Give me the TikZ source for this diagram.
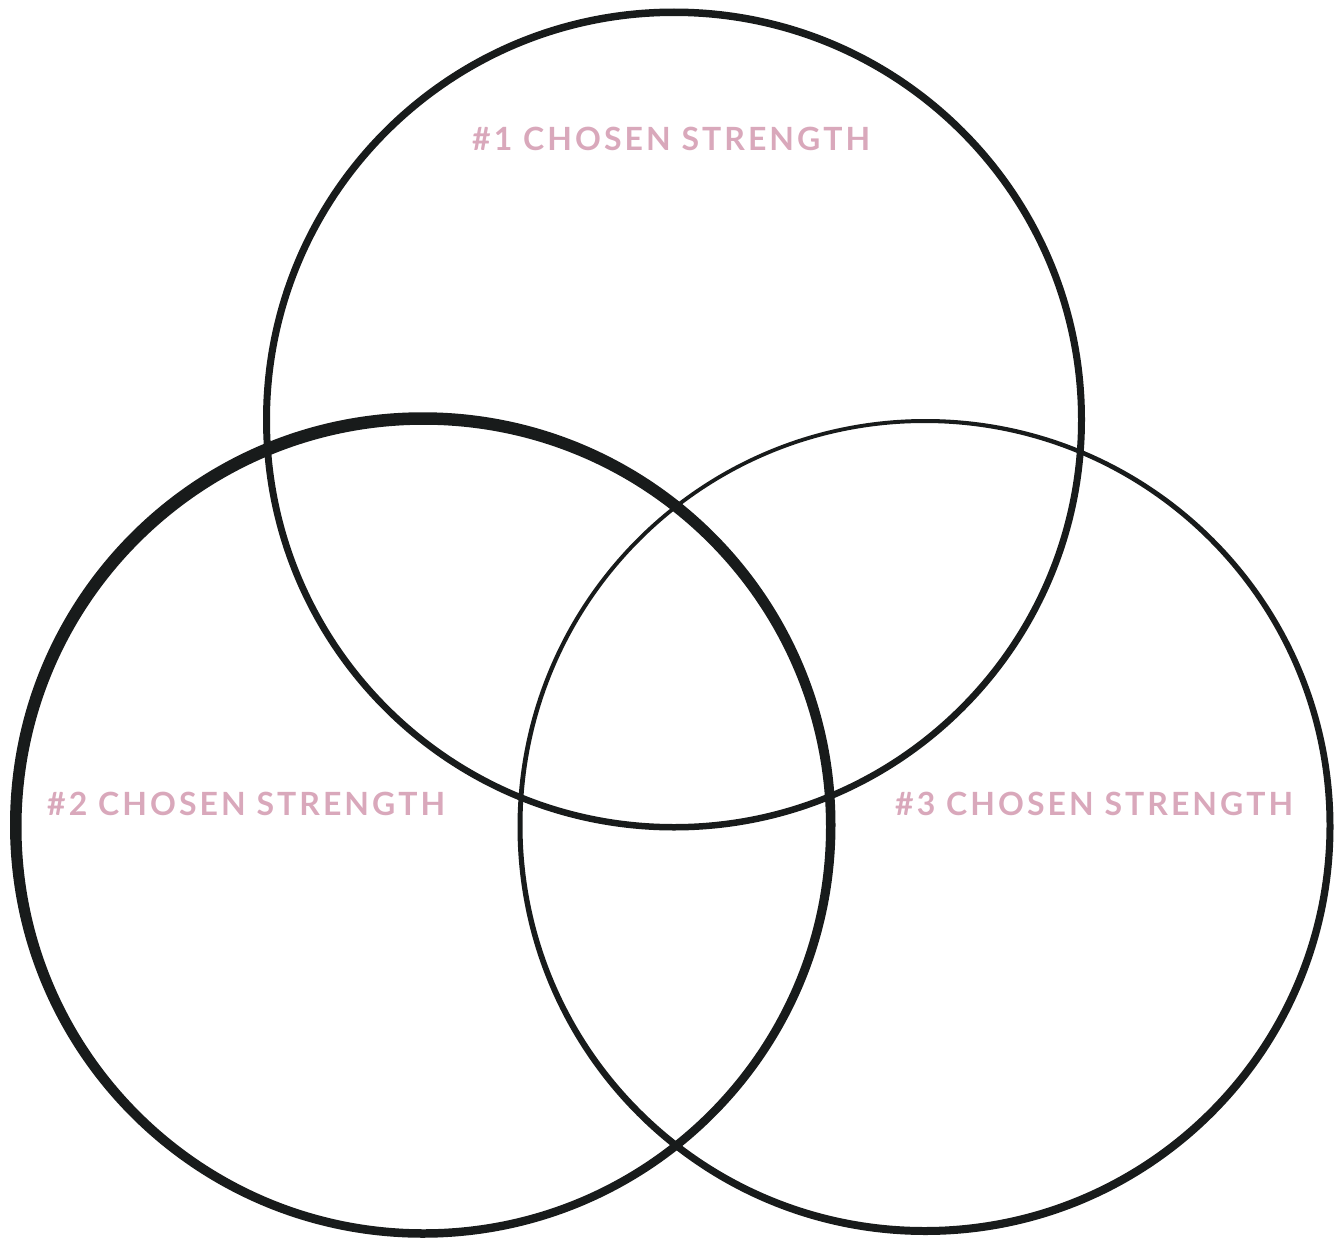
\documentclass[tikz,border=0pt]{standalone}
\usepackage{fontspec}
\newfontfamily\labelfont[LetterSpace=9.5]{Lato}
\definecolor{ink}{HTML}{181B1B}
\definecolor{rose}{HTML}{D9A8BB}
\begin{document}
\begin{tikzpicture}[x=1pt,y=-1pt,
  ring/.style={fill=ink,even odd rule},
  lbl/.style={anchor=base west,inner sep=0pt,text=rose,font=\labelfont\bfseries\fontsize{32}{32}\selectfont}]
\useasboundingbox (0,0) rectangle (1341,1239);
% centres of the outer and inner edges of each ring
\coordinate (c1) at (674,419.5);   \coordinate (c1i) at (674,420);
\coordinate (c2) at (422.75,825);  \coordinate (c2i) at (423.75,827);
\coordinate (c3) at (925.5,827);   \coordinate (c3i) at (924.5,825);
\fill[ring] (c1) circle (411) (c1i) circle (404);
\fill[ring] (c2) circle (412.75) (c2i) circle (402.25);
\fill[ring] (c3) circle (408) (c3i) circle (402);
\node[lbl] (l1) at (472,150) {\#1 CHOSEN STRENGTH};
\node[lbl] (l2) at (47,815) {\#2 CHOSEN STRENGTH};
\node[lbl] (l3) at (895,815) {\#3 CHOSEN STRENGTH};
\end{tikzpicture}
\end{document}
